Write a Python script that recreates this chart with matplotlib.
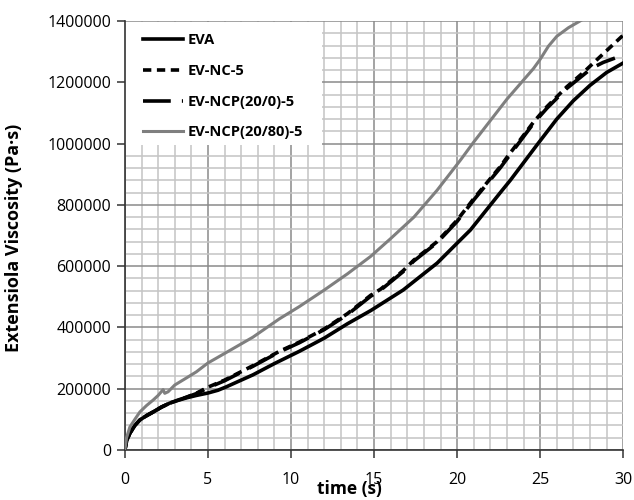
import matplotlib
matplotlib.use('Agg')
import matplotlib.pyplot as plt
from matplotlib.patches import Rectangle
from matplotlib.ticker import MultipleLocator, FuncFormatter

# ── Data ─────────────────────────────────────────────────────────────────────
t_eva = [0, 0.1, 0.3, 0.6, 0.9, 1.3, 1.7, 2.2, 2.7, 3.2, 3.7, 4.3, 5.0, 5.6,
         6.1, 7.0, 7.7, 9.0, 10.5, 12.0, 13.4, 14.8, 16.75, 18.8, 20.0, 20.8,
         22.6, 23.2, 24.8, 26.0, 27.0, 28.0, 29.0, 30.0]
v_eva = [0, 30000, 55000, 80000, 98000, 112000, 124000, 140000, 153000,
         162000, 170000, 178000, 186000, 195000, 206000, 228000, 245000,
         282000, 322000, 365000, 412000, 455000, 522000, 610000, 675000,
         718000, 840000, 880000, 995000, 1080000, 1140000, 1190000, 1232000,
         1263000]

t_nc = [0, 0.1, 0.3, 0.6, 0.9, 1.3, 1.7, 2.2, 2.7, 3.2, 3.7, 4.3, 5.0, 6.0,
        7.7, 9.3, 10.5, 12.0, 13.4, 14.8, 15.4, 16.75, 17.4, 18.8, 20.0, 21.0,
        22.6, 23.0, 24.6, 25.4, 26.6, 27.6, 28.6, 30.0]
v_nc = [0, 30000, 55000, 80000, 98000, 112000, 124000, 140000, 153000,
        163000, 172000, 185000, 205000, 228000, 275000, 322000, 352000,
        395000, 445000, 505000, 525000, 585000, 620000, 680000, 750000,
        820000, 925000, 955000, 1070000, 1120000, 1185000, 1232000, 1283000,
        1354000]

t_ncp0 = [0, 0.1, 0.3, 0.6, 0.9, 1.3, 1.7, 2.2, 2.7, 3.2, 3.7, 4.3, 5.0, 6.0,
          7.7, 9.3, 10.5, 12.0, 13.4, 14.8, 15.4, 16.75, 17.4, 18.8, 20.0,
          21.0, 22.6, 23.0, 24.6, 25.4, 26.6, 27.6, 28.1, 28.8, 29.5]
v_ncp0 = [0, 30000, 55000, 80000, 98000, 112000, 124000, 140000, 153000,
          163000, 172000, 184000, 203000, 226000, 273000, 320000, 350000,
          393000, 442000, 502000, 522000, 582000, 617000, 677000, 746000,
          816000, 921000, 950000, 1066000, 1115000, 1180000, 1224000, 1246000,
          1265000, 1279000]

t_ncp80 = [0, 0.1, 0.3, 0.6, 0.9, 1.3, 1.7, 2.0, 2.3, 2.4, 2.6, 3.0, 3.7,
           4.3, 5.0, 6.0, 7.7, 9.3, 10.5, 12.0, 13.4, 14.8, 16.0, 17.4,
           18.8, 20.2, 21.0, 23.0, 24.6, 25.0, 25.5, 26.0, 26.7, 27.4, 28.0]
v_ncp80 = [0, 40000, 75000, 100000, 124000, 145000, 163000, 178000, 197000,
           185000, 190000, 212000, 235000, 255000, 284000, 315000, 368000,
           428000, 468000, 522000, 575000, 632000, 690000, 760000, 848000,
           946000, 1005000, 1145000, 1245000, 1275000, 1318000, 1350000,
           1378000, 1400000, 1420000]

labels = ["EVA", "EV-NC-5", "EV-NCP(20/0)-5", "EV-NCP(20/80)-5"]

plt.rcParams['font.family'] = ['Open Sans', 'DejaVu Sans']
plt.rcParams['lines.scale_dashes'] = False

fig = plt.figure(figsize=(6.34, 5.0), dpi=100)
ax = fig.add_axes([0.197, 0.10, 0.786, 0.858])

ax.plot(t_eva, v_eva, color='black', lw=2.6, label=labels[0], zorder=3)
ax.plot(t_nc, v_nc, color='black', lw=2.6, linestyle=(0, (6, 4)),
        label=labels[1], zorder=3)
ax.plot(t_ncp0, v_ncp0, color='black', lw=2.6, linestyle=(0, (20, 8)),
        label=labels[2], zorder=3)
ax.plot(t_ncp80, v_ncp80, color='#7f7f7f', lw=2.2, label=labels[3], zorder=3)

ax.set_xlim(0, 30)
ax.set_ylim(0, 1400000)
ax.xaxis.set_major_locator(MultipleLocator(5))
ax.xaxis.set_minor_locator(MultipleLocator(1))
ax.yaxis.set_major_locator(MultipleLocator(200000))
ax.yaxis.set_minor_locator(MultipleLocator(40000))
ax.yaxis.set_major_formatter(FuncFormatter(lambda v, p: f"{v:.0f}"))
ax.grid(which='minor', color='#c4c4c4', lw=1.1)
ax.grid(which='major', color='#8a8a8a', lw=1.1)

ax.tick_params(which='major', direction='out', length=6, width=1.1,
               labelsize=11.5, color='#333333', pad=4)
ax.tick_params(axis='x', pad=10)
ax.tick_params(which='minor', length=0)
for side in ('top', 'right'):
    ax.spines[side].set_visible(False)
for side in ('left', 'bottom'):
    ax.spines[side].set_color('#333333')
    ax.spines[side].set_linewidth(1.2)

# white patch behind the legend, hiding the grid
ax.add_patch(Rectangle((0, 0.711), 0.396, 0.287, transform=ax.transAxes,
                       facecolor='white', edgecolor='none', zorder=1.8))

leg = ax.legend(loc='upper left', bbox_to_anchor=(0.012, 1.0), frameon=False,
                prop={'weight': 'bold', 'size': 10.5}, handlelength=2.7,
                handletextpad=0.35, labelspacing=1.14, borderaxespad=0.75,
                borderpad=0.1)
leg.set_zorder(4)

ax.set_xlabel("time (s)", fontsize=12.5, fontweight='bold', va='center')
ax.xaxis.set_label_coords(0.45, -0.092)
ax.set_ylabel("Extensiola Viscosity (Pa·s)", fontsize=13, fontweight='bold',
              va='center')
ax.yaxis.set_label_coords(-0.222, 0.495)

fig.savefig("out.png", dpi=100)
